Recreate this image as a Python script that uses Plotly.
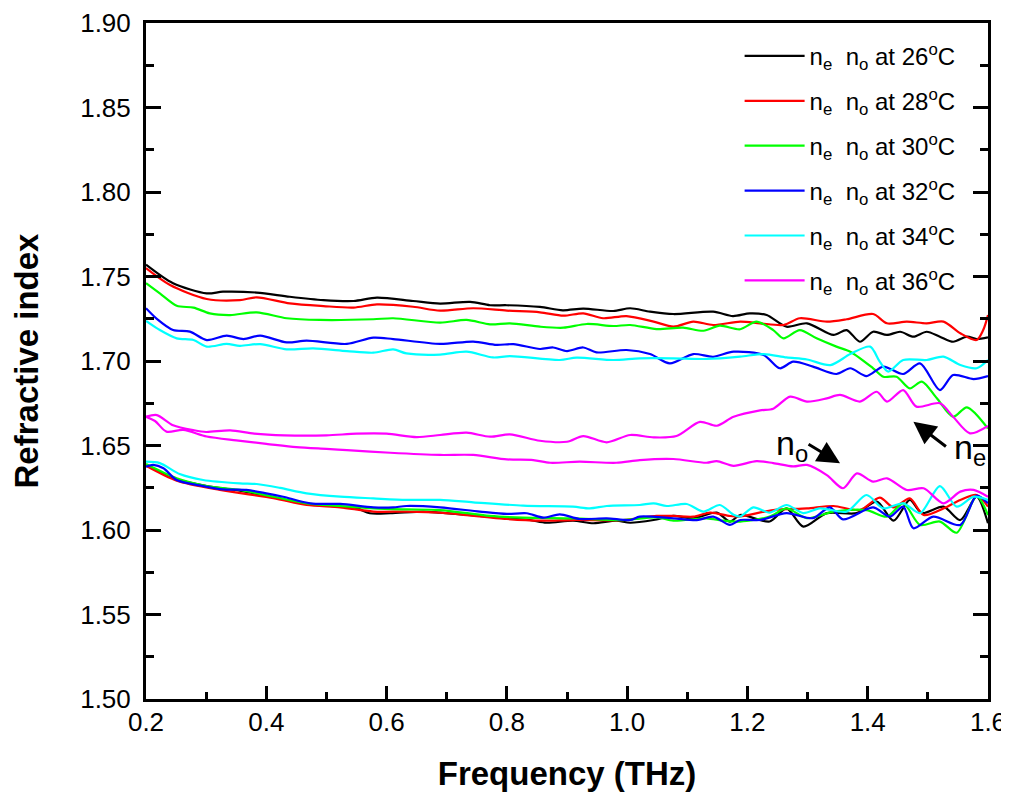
import plotly.graph_objects as go

# ---------------- data ----------------
temps = ["26", "28", "30", "32", "34", "36"]
colors = ["#000000", "#FF0000", "#00FF00", "#0000FF", "#00FFFF", "#FF00FF"]

# extraordinary index n_e
ne26_x = [0.2, 0.245, 0.301, 0.328, 0.384, 0.439, 0.495, 0.545, 0.584, 0.644, 0.689, 0.739, 0.772, 0.8, 0.855, 0.893, 0.927, 0.977, 1.005, 1.038, 1.077, 1.143, 1.176, 1.204, 1.232, 1.265, 1.299, 1.343, 1.365, 1.387, 1.409, 1.432, 1.454, 1.476, 1.498, 1.520, 1.542, 1.565, 1.581, 1.6]
ne26_y = [1.757, 1.746, 1.740, 1.741, 1.7405, 1.738, 1.736, 1.7355, 1.7375, 1.7355, 1.734, 1.735, 1.733, 1.733, 1.732, 1.730, 1.731, 1.7296, 1.7312, 1.7292, 1.7278, 1.7292, 1.7266, 1.7282, 1.7272, 1.7203, 1.7223, 1.7154, 1.7183, 1.7114, 1.7173, 1.7154, 1.7173, 1.7144, 1.7173, 1.7144, 1.7114, 1.7144, 1.713, 1.714]

ne28_x = [0.2, 0.240, 0.301, 0.356, 0.384, 0.439, 0.495, 0.545, 0.584, 0.644, 0.689, 0.744, 0.8, 0.855, 0.894, 0.927, 0.960, 0.999, 1.044, 1.077, 1.110, 1.143, 1.188, 1.221, 1.260, 1.287, 1.332, 1.365, 1.409, 1.432, 1.465, 1.498, 1.526, 1.554, 1.581, 1.592, 1.6]
ne28_y = [1.755, 1.745, 1.7367, 1.736, 1.7377, 1.7341, 1.7325, 1.7316, 1.7335, 1.7321, 1.7298, 1.7312, 1.7298, 1.7288, 1.7268, 1.7282, 1.7253, 1.7266, 1.7233, 1.7203, 1.7233, 1.7213, 1.7233, 1.7223, 1.7213, 1.7253, 1.7233, 1.7247, 1.7278, 1.7223, 1.7233, 1.7223, 1.7233, 1.7164, 1.7124, 1.7183, 1.7272]

ne30_x = [0.2, 0.223, 0.251, 0.279, 0.306, 0.34, 0.384, 0.434, 0.489, 0.578, 0.611, 0.689, 0.733, 0.772, 0.805, 0.855, 0.894, 0.933, 0.977, 1.005, 1.049, 1.093, 1.127, 1.154, 1.188, 1.215, 1.243, 1.260, 1.287, 1.315, 1.348, 1.371, 1.409, 1.426, 1.448, 1.470, 1.490, 1.515, 1.542, 1.565, 1.6]
ne30_y = [1.746, 1.740, 1.7327, 1.7316, 1.7282, 1.7272, 1.7288, 1.7253, 1.7243, 1.7247, 1.7253, 1.7227, 1.7243, 1.7217, 1.7223, 1.7203, 1.7197, 1.7219, 1.7207, 1.7213, 1.7189, 1.7197, 1.7179, 1.7209, 1.7188, 1.7233, 1.7183, 1.7134, 1.7183, 1.7134, 1.7085, 1.7055, 1.6957, 1.6907, 1.6907, 1.6838, 1.6878, 1.6779, 1.667, 1.6726, 1.660]

ne32_x = [0.2, 0.218, 0.245, 0.273, 0.301, 0.334, 0.362, 0.39, 0.434, 0.467, 0.534, 0.578, 0.611, 0.689, 0.744, 0.783, 0.811, 0.855, 0.877, 0.900, 0.927, 0.949, 0.999, 1.038, 1.071, 1.110, 1.143, 1.177, 1.227, 1.254, 1.276, 1.309, 1.348, 1.371, 1.398, 1.426, 1.459, 1.487, 1.520, 1.542, 1.576, 1.6]
ne32_y = [1.7312, 1.7249, 1.7183, 1.7174, 1.7124, 1.715, 1.713, 1.715, 1.711, 1.712, 1.7101, 1.7138, 1.713, 1.7101, 1.7115, 1.7095, 1.710, 1.7071, 1.708, 1.7059, 1.708, 1.7051, 1.7065, 1.7041, 1.6986, 1.7041, 1.7025, 1.7055, 1.7036, 1.6957, 1.6996, 1.6967, 1.6923, 1.6957, 1.6911, 1.6967, 1.6923, 1.6986, 1.6828, 1.6917, 1.6893, 1.6911]

ne34_x = [0.2, 0.223, 0.251, 0.279, 0.301, 0.334, 0.356, 0.39, 0.434, 0.478, 0.534, 0.578, 0.611, 0.633, 0.689, 0.733, 0.777, 0.805, 0.888, 0.916, 0.977, 1.021, 1.077, 1.132, 1.188, 1.227, 1.265, 1.299, 1.338, 1.371, 1.404, 1.420, 1.434, 1.459, 1.498, 1.526, 1.554, 1.581, 1.6]
ne34_y = [1.7237, 1.7183, 1.7134, 1.7124, 1.7085, 1.7101, 1.709, 1.710, 1.7069, 1.7075, 1.7059, 1.7049, 1.7069, 1.7045, 1.7038, 1.7055, 1.7021, 1.7029, 1.7006, 1.702, 1.7006, 1.7016, 1.7016, 1.7012, 1.7026, 1.7041, 1.7021, 1.7009, 1.6976, 1.7041, 1.7085, 1.6996, 1.6937, 1.7006, 1.7006, 1.7026, 1.6976, 1.6957, 1.7006]

ne36_x = [0.2, 0.218, 0.245, 0.28, 0.3, 0.34, 0.38, 0.43, 0.5, 0.55, 0.6, 0.65, 0.689, 0.733, 0.772, 0.805, 0.855, 0.9, 0.927, 0.966, 1.005, 1.044, 1.082, 1.121, 1.149, 1.177, 1.221, 1.243, 1.271, 1.299, 1.332, 1.354, 1.387, 1.415, 1.432, 1.459, 1.481, 1.520, 1.542, 1.570, 1.6]
ne36_y = [1.667, 1.668, 1.662, 1.659, 1.658, 1.659, 1.657, 1.656, 1.656, 1.657, 1.657, 1.655, 1.6562, 1.6576, 1.6552, 1.6566, 1.6528, 1.6522, 1.6556, 1.6519, 1.6562, 1.6548, 1.6556, 1.664, 1.6617, 1.667, 1.6708, 1.6718, 1.6789, 1.676, 1.6779, 1.6799, 1.676, 1.6818, 1.676, 1.6828, 1.673, 1.675, 1.667, 1.6572, 1.6616]

# ordinary index n_o
no26_x = [0.2, 0.251, 0.301, 0.356, 0.412, 0.467, 0.523, 0.551, 0.572, 0.606, 0.661, 0.689, 0.8, 0.838, 0.866, 0.91, 0.944, 0.982, 1.005, 1.044, 1.077, 1.110, 1.149, 1.171, 1.188, 1.237, 1.265, 1.293, 1.332, 1.382, 1.415, 1.443, 1.470, 1.490, 1.526, 1.554, 1.581, 1.6]
no26_y = [1.6385, 1.630, 1.626, 1.6233, 1.6193, 1.6154, 1.6138, 1.6128, 1.6099, 1.6099, 1.6109, 1.6103, 1.6069, 1.6059, 1.6043, 1.6055, 1.604, 1.6055, 1.6043, 1.6059, 1.6083, 1.6069, 1.6103, 1.605, 1.6089, 1.605, 1.6128, 1.602, 1.61, 1.61, 1.6168, 1.6055, 1.6178, 1.61, 1.6138, 1.6059, 1.6197, 1.604]

no28_x = [0.2, 0.251, 0.323, 0.412, 0.467, 0.523, 0.578, 0.633, 0.689, 0.8, 0.855, 0.911, 0.993, 1.049, 1.077, 1.110, 1.138, 1.171, 1.188, 1.243, 1.299, 1.343, 1.387, 1.420, 1.443, 1.470, 1.493, 1.526, 1.554, 1.581, 1.6]
no28_y = [1.638, 1.6292, 1.6237, 1.6188, 1.6148, 1.6134, 1.6109, 1.6109, 1.6103, 1.6065, 1.6055, 1.6059, 1.6059, 1.6083, 1.6083, 1.6079, 1.6103, 1.6083, 1.608, 1.6118, 1.6128, 1.6142, 1.6118, 1.6191, 1.6134, 1.6187, 1.6089, 1.6128, 1.6178, 1.6207, 1.6138]

no30_x = [0.2, 0.251, 0.301, 0.356, 0.412, 0.467, 0.523, 0.578, 0.633, 0.689, 0.772, 0.827, 0.911, 0.993, 1.049, 1.077, 1.132, 1.16, 1.188, 1.237, 1.265, 1.299, 1.343, 1.398, 1.432, 1.459, 1.487, 1.520, 1.548, 1.581, 1.6]
no30_y = [1.639, 1.6306, 1.626, 1.6237, 1.6197, 1.6158, 1.6142, 1.6128, 1.6122, 1.6118, 1.6083, 1.6073, 1.6069, 1.6059, 1.6075, 1.6055, 1.6069, 1.6055, 1.605, 1.6079, 1.6128, 1.607, 1.6109, 1.6118, 1.6079, 1.6158, 1.603, 1.605, 1.5984, 1.62, 1.6089]

no32_x = [0.2, 0.212, 0.229, 0.251, 0.295, 0.328, 0.367, 0.4, 0.428, 0.473, 0.523, 0.578, 0.611, 0.633, 0.689, 0.755, 0.8, 0.833, 0.861, 0.888, 0.921, 0.966, 1.005, 1.021, 1.077, 1.116, 1.143, 1.171, 1.188, 1.221, 1.265, 1.309, 1.337, 1.359, 1.409, 1.437, 1.459, 1.476, 1.509, 1.554, 1.581, 1.6]
no32_y = [1.6375, 1.6385, 1.6365, 1.6296, 1.626, 1.624, 1.6237, 1.6217, 1.6197, 1.6158, 1.6154, 1.6134, 1.6134, 1.6142, 1.6134, 1.6109, 1.6095, 1.6099, 1.6073, 1.6093, 1.6065, 1.6069, 1.6059, 1.6079, 1.6069, 1.6059, 1.6079, 1.603, 1.6059, 1.6059, 1.610, 1.607, 1.6134, 1.6063, 1.6134, 1.6079, 1.6138, 1.601, 1.6079, 1.603, 1.6203, 1.6158]

no34_x = [0.2, 0.223, 0.256, 0.295, 0.356, 0.384, 0.423, 0.467, 0.523, 0.578, 0.633, 0.689, 0.744, 0.827, 0.91, 0.938, 0.966, 1.021, 1.044, 1.066, 1.099, 1.127, 1.154, 1.177, 1.188, 1.210, 1.237, 1.265, 1.293, 1.320, 1.365, 1.398, 1.426, 1.459, 1.487, 1.520, 1.548, 1.576, 1.6]
no34_y = [1.6404, 1.6396, 1.6331, 1.6296, 1.6276, 1.6272, 1.6249, 1.6217, 1.6197, 1.6187, 1.6178, 1.6178, 1.6164, 1.6144, 1.6138, 1.6128, 1.6142, 1.6148, 1.6158, 1.6142, 1.6154, 1.6109, 1.6148, 1.609, 1.608, 1.6134, 1.6103, 1.6148, 1.610, 1.6128, 1.6109, 1.6207, 1.6128, 1.6158, 1.610, 1.626, 1.6138, 1.6197, 1.6178]

no36_x = [0.2, 0.215, 0.234, 0.262, 0.301, 0.35, 0.4, 0.45, 0.5, 0.534, 0.606, 0.689, 0.744, 0.8, 0.844, 0.872, 0.921, 0.982, 1.021, 1.077, 1.132, 1.149, 1.177, 1.215, 1.243, 1.276, 1.299, 1.332, 1.359, 1.382, 1.409, 1.432, 1.465, 1.493, 1.526, 1.554, 1.576, 1.6]
no36_y = [1.667, 1.6645, 1.6582, 1.6592, 1.6553, 1.653, 1.651, 1.649, 1.648, 1.6473, 1.6457, 1.6444, 1.6444, 1.6418, 1.6414, 1.6398, 1.6404, 1.6398, 1.6414, 1.642, 1.6398, 1.6408, 1.638, 1.6408, 1.6396, 1.6376, 1.6385, 1.6325, 1.6247, 1.6335, 1.6286, 1.6306, 1.6237, 1.6247, 1.6158, 1.6227, 1.6237, 1.6197]

x_ticks = [0.2, 0.4, 0.6, 0.8, 1.0, 1.2, 1.4, 1.6]
y_ticks = [1.50, 1.55, 1.60, 1.65, 1.70, 1.75, 1.80, 1.85, 1.90]

ne_series = [(ne26_x, ne26_y), (ne28_x, ne28_y), (ne30_x, ne30_y),
             (ne32_x, ne32_y), (ne34_x, ne34_y), (ne36_x, ne36_y)]
no_series = [(no26_x, no26_y), (no28_x, no28_y), (no30_x, no30_y),
             (no32_x, no32_y), (no34_x, no34_y), (no36_x, no36_y)]

FONT = "Arial, Liberation Sans, sans-serif"

fig = go.Figure()
for i, t in enumerate(temps):
    label = f"n<sub>e</sub>&nbsp; n<sub>o</sub> at {t}<sup>o</sup>C"
    ex, ey = ne_series[i]
    ox, oy = no_series[i]
    fig.add_trace(go.Scatter(x=ex, y=ey, mode="lines", name=label,
                             legendgroup=t, showlegend=True,
                             line=dict(color=colors[i], width=2.2, shape="spline", smoothing=0.8)))
    fig.add_trace(go.Scatter(x=ox, y=oy, mode="lines", name=label,
                             legendgroup=t, showlegend=False,
                             line=dict(color=colors[i], width=2.2, shape="spline", smoothing=0.8)))

axis_common = dict(showgrid=False, zeroline=False, showline=True, linecolor="black",
                   linewidth=3, ticks="inside", tickwidth=3, tickcolor="black",
                   tickfont=dict(family=FONT, size=26, color="black"),
                   automargin=False)

fig.update_xaxes(range=[0.2, 1.6], tickvals=x_ticks, tickformat=".1f",
                 ticklen=13, mirror=True, ticklabelstandoff=-2,
                 minor=dict(ticks="inside", dtick=0.1, tick0=0.2, ticklen=7, tickwidth=3, tickcolor="black"),
                 title=dict(text="<b>Frequency (THz)</b>", font=dict(family=FONT, size=33, color="black"), standoff=26),
                 **axis_common)
fig.update_yaxes(range=[1.5, 1.9], tickvals=y_ticks, tickformat=".2f",
                 ticklen=15, mirror="ticks", ticklabelstandoff=7,
                 minor=dict(ticks="inside", dtick=0.025, tick0=1.5, ticklen=8, tickwidth=3, tickcolor="black"),
                 title=dict(text="<b>Refractive index</b>", font=dict(family=FONT, size=33, color="black"), standoff=32),
                 **axis_common)

anno_font = dict(family=FONT, size=34, color="black")
fig.add_annotation(x=1.244, y=1.6500, xref="x", yref="y", text="n<sub>o</sub>",
                   showarrow=False, xanchor="left", yanchor="middle", font=anno_font)
fig.add_annotation(x=1.540, y=1.6478, xref="x", yref="y", text="n<sub>e</sub>",
                   showarrow=False, xanchor="left", yanchor="middle", font=anno_font)
fig.add_annotation(x=1.354, y=1.6395, xref="x", yref="y", text="", showarrow=True,
                   ax=-33, ay=-20, arrowhead=2, arrowsize=1.5, arrowwidth=3,
                   arrowcolor="black", standoff=0)
fig.add_annotation(x=1.476, y=1.6641, xref="x", yref="y", text="", showarrow=True,
                   ax=34, ay=26, arrowhead=2, arrowsize=1.5, arrowwidth=3,
                   arrowcolor="black", standoff=0)

# The page body adds an 8 px offset, so the figure is sized to fit the window.
fig.update_layout(
    width=1001, height=790, autosize=False,
    margin=dict(l=138, r=21, t=15, b=99),
    paper_bgcolor="white", plot_bgcolor="white",
    font=dict(family=FONT, size=24, color="black"),
    legend=dict(x=0.705, y=0.984, xanchor="left", yanchor="top",
                bgcolor="rgba(0,0,0,0)", borderwidth=0,
                font=dict(family=FONT, size=24, color="black"),
                tracegroupgap=10.7, itemwidth=60),
    showlegend=True,
)

fig.write_html("out.html")
